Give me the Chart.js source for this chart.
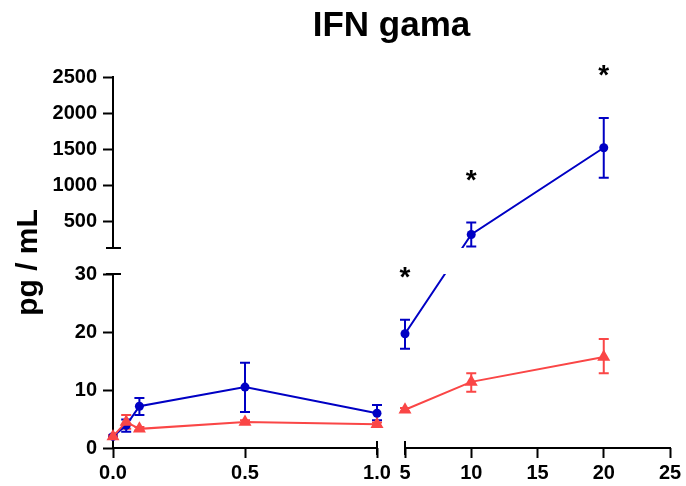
<!DOCTYPE html>
<html>
<head>
<meta charset="utf-8">
<title>IFN gama</title>
<script src="https://cdn.jsdelivr.net/npm/chart.js@4.4.1/dist/chart.umd.min.js"></script>
<style>
  html, body { margin: 0; padding: 0; background: #fff; }
  #wrap { width: 686px; height: 486px; }
</style>
</head>
<body>
<div id="wrap"><canvas id="ifn-chart"></canvas></div>
<script>
// sampling times and IFN gama levels (pg/mL), mean with lower/upper error
const times = [0, 0.05, 0.1, 0.5, 1, 5, 10, 20];
const blueMean = [2.0, 3.9, 7.2, 10.5, 6.0, 19.7, 312, 1517];
const blueLow = [1.8, 2.8, 5.7, 6.2, 4.8, 17.1, 146, 1101];
const blueHigh = [2.2, 4.9, 8.6, 14.7, 7.4, 22.1, 478, 1932];
const redMean = [2.0, 4.5, 3.3, 4.5, 4.1, 6.6, 11.4, 15.7];
const redLow = [1.8, 3.3, 3.0, 4.2, 3.8, 6.3, 9.7, 12.9];
const redHigh = [2.2, 5.7, 3.6, 4.8, 4.4, 6.9, 12.9, 18.8];
const starTimes = [5, 10, 20];

const xTickValues = [0, 0.5, 1, 5, 10, 15, 20, 25];
const xTickLabels = ["0.0", "0.5", "1.0", "5", "10", "15", "20", "25"];
const yTickValues = [0, 10, 20, 30, 500, 1000, 1500, 2000, 2500];
const yTickLabels = ["0", "10", "20", "30", "500", "1000", "1500", "2000", "2500"];

// axis segments: value range, pixel length, and blank gap before it
const axisPieces = {
  x: [
    { min: 0, max: 1, size: 264 },
    { min: 5, max: 25, size: 265, gap: 28 },
  ],
  y: [
    { min: 0, max: 30, size: 174 },
    { min: 125, max: 2500, size: 171, gap: 26 },
  ],
};

const BLUE = "#0000c4";
const RED = "#fa4646";
const FONT = "'Liberation Sans', Arial, sans-serif";

// linear scale split into several pieces with gaps between them
class BrokenScale extends Chart.LinearScale {
  spans() {
    const pieces = axisPieces[this.id];
    let pos = 0;
    const out = pieces.map((p) => {
      pos += p.gap || 0;
      const s = { min: p.min, max: p.max, from: pos, to: pos + p.size };
      pos += p.size;
      return s;
    });
    out.forEach((s) => {
      s.from /= pos;
      s.to /= pos;
    });
    return out;
  }
  getPixelForValue(value) {
    if (value === null || isNaN(value)) return NaN;
    const spans = this.spans();
    const s = spans.find((sp) => value <= sp.max) || spans[spans.length - 1];
    const t = (value - s.min) / (s.max - s.min);
    return this.getPixelForDecimal(s.from + t * (s.to - s.from));
  }
  getValueForPixel(pixel) {
    const d = this.getDecimalForPixel(pixel);
    const spans = this.spans();
    const s = spans.find((sp) => d <= sp.to) || spans[spans.length - 1];
    return s.min + ((d - s.from) / (s.to - s.from)) * (s.max - s.min);
  }
}
BrokenScale.id = "broken";
BrokenScale.defaults = {};
Chart.register(BrokenScale);

function toPoints(ys) {
  return times.map((t, i) => ({ x: t, y: ys[i] }));
}

// no line across the gap in the time axis
function gapSegment(ctx) {
  const left = axisPieces.x[0].max;
  const right = axisPieces.x[1].min;
  if (ctx.p0.parsed.x <= left && ctx.p1.parsed.x >= right) return "rgba(0,0,0,0)";
  return undefined;
}

const brokenAxes = {
  id: "brokenAxes",
  beforeDatasetsDraw(chart) {
    const { ctx, chartArea } = chart;
    const xs = chart.scales.x;
    const ys = chart.scales.y;
    const ax = chartArea.left;
    const ay = chartArea.bottom;

    ctx.save();
    ctx.strokeStyle = "#000";
    ctx.lineWidth = 2;
    ctx.lineCap = "square";
    // vertical axis pieces with end caps at the break
    axisPieces.y.forEach((p, i, arr) => {
      const y1 = ys.getPixelForValue(p.min);
      const y2 = ys.getPixelForValue(p.max);
      ctx.beginPath();
      ctx.moveTo(ax, y1);
      ctx.lineTo(ax, y2);
      if (i > 0) {
        ctx.moveTo(ax - 6, y1);
        ctx.lineTo(ax + 7, y1);
      }
      if (i < arr.length - 1) {
        ctx.moveTo(ax - 6, y2);
        ctx.lineTo(ax + 7, y2);
      }
      ctx.stroke();
    });
    // horizontal axis pieces
    axisPieces.x.forEach((p, i, arr) => {
      const x1 = xs.getPixelForValue(p.min);
      const x2 = xs.getPixelForValue(p.max);
      ctx.beginPath();
      ctx.moveTo(x1, ay);
      ctx.lineTo(x2, ay);
      if (i > 0) {
        ctx.moveTo(x1, ay - 6);
        ctx.lineTo(x1, ay + 6);
      }
      if (i < arr.length - 1) {
        ctx.moveTo(x2, ay - 6);
        ctx.lineTo(x2, ay + 6);
      }
      ctx.stroke();
    });

    // error bars
    ctx.lineCap = "butt";
    const bars = [
      [BLUE, blueLow, blueHigh],
      [RED, redLow, redHigh],
    ];
    bars.forEach(([color, lo, hi]) => {
      ctx.strokeStyle = color;
      ctx.beginPath();
      times.forEach((t, i) => {
        const px = xs.getPixelForValue(t);
        const y1 = ys.getPixelForValue(lo[i]);
        const y2 = ys.getPixelForValue(hi[i]);
        ctx.moveTo(px, y1);
        ctx.lineTo(px, y2);
        ctx.moveTo(px - 5, y1);
        ctx.lineTo(px + 5, y1);
        ctx.moveTo(px - 5, y2);
        ctx.lineTo(px + 5, y2);
      });
      ctx.stroke();
    });
    ctx.restore();

    // hide lines inside the break of the value axis
    const gapTop = ys.getPixelForValue(axisPieces.y[1].min);
    const gapBottom = ys.getPixelForValue(axisPieces.y[0].max);
    ctx.save();
    ctx.beginPath();
    ctx.rect(0, 0, chart.width, chart.height);
    ctx.rect(chartArea.left + 2, gapTop, chart.width, gapBottom - gapTop);
    ctx.clip("evenodd");
  },
  afterDatasetsDraw(chart) {
    const { ctx } = chart;
    ctx.restore();
    const xs = chart.scales.x;
    const ys = chart.scales.y;
    ctx.save();
    ctx.fillStyle = "#000";
    ctx.font = "bold 28px " + FONT;
    ctx.textAlign = "center";
    ctx.textBaseline = "alphabetic";
    starTimes.forEach((t) => {
      const i = times.indexOf(t);
      const px = xs.getPixelForValue(t);
      const py = ys.getPixelForValue(blueHigh[i]) - 46;
      ctx.fillText("*", px, py + 12);
    });
    ctx.restore();
  },
};

Chart.defaults.font.family = FONT;
Chart.defaults.color = "#000";

const tickGrid = {
  display: true,
  drawOnChartArea: false,
  drawTicks: true,
  tickLength: 10,
  tickWidth: 2,
  tickColor: "#000",
};

new Chart(document.getElementById("ifn-chart"), {
  type: "line",
  data: {
    datasets: [
      {
        label: "red",
        data: toPoints(redMean),
        borderColor: RED,
        backgroundColor: RED,
        borderWidth: 2,
        pointStyle: "triangle",
        pointRadius: 7.5,
        pointBorderWidth: 0,
        clip: false,
        order: 1,
        segment: { borderColor: gapSegment },
      },
      {
        label: "blue",
        data: toPoints(blueMean),
        borderColor: BLUE,
        backgroundColor: BLUE,
        borderWidth: 2,
        pointStyle: "circle",
        pointRadius: 4.5,
        pointBorderWidth: 0,
        clip: false,
        order: 2,
        segment: { borderColor: gapSegment },
      },
    ],
  },
  options: {
    responsive: true,
    maintainAspectRatio: false,
    animation: false,
    layout: { padding: { left: 0, right: 16, top: 0, bottom: 0 } },
    plugins: {
      legend: { display: false },
      tooltip: { enabled: false },
      title: {
        display: true,
        text: "IFN gama",
        fullSize: false,
        color: "#000",
        font: { size: 35, weight: "bold" },
        padding: { top: 5, bottom: 30 },
      },
    },
    scales: {
      x: {
        type: "broken",
        position: "bottom",
        min: 0,
        max: 25,
        afterBuildTicks: (s) => {
          s.ticks = xTickValues.map((v) => ({ value: v }));
        },
        afterFit: (s) => {
          s.height = 38;
        },
        grid: tickGrid,
        border: { display: false },
        ticks: {
          autoSkip: false,
          maxRotation: 0,
          padding: 3,
          font: { size: 20, weight: "bold" },
          callback: (v, i) => xTickLabels[i],
        },
      },
      y: {
        type: "broken",
        position: "left",
        min: 0,
        max: 2500,
        afterBuildTicks: (s) => {
          s.ticks = yTickValues.map((v) => ({ value: v }));
        },
        afterFit: (s) => {
          s.width = 113;
        },
        grid: tickGrid,
        border: { display: false },
        ticks: {
          autoSkip: false,
          padding: 6,
          font: { size: 20, weight: "bold" },
          callback: (v, i) => yTickLabels[i],
        },
        title: {
          display: true,
          text: "pg / mL",
          font: { size: 30, weight: "bold" },
          padding: { top: 11, bottom: 0 },
        },
      },
    },
  },
  plugins: [brokenAxes],
});
</script>
</body>
</html>
